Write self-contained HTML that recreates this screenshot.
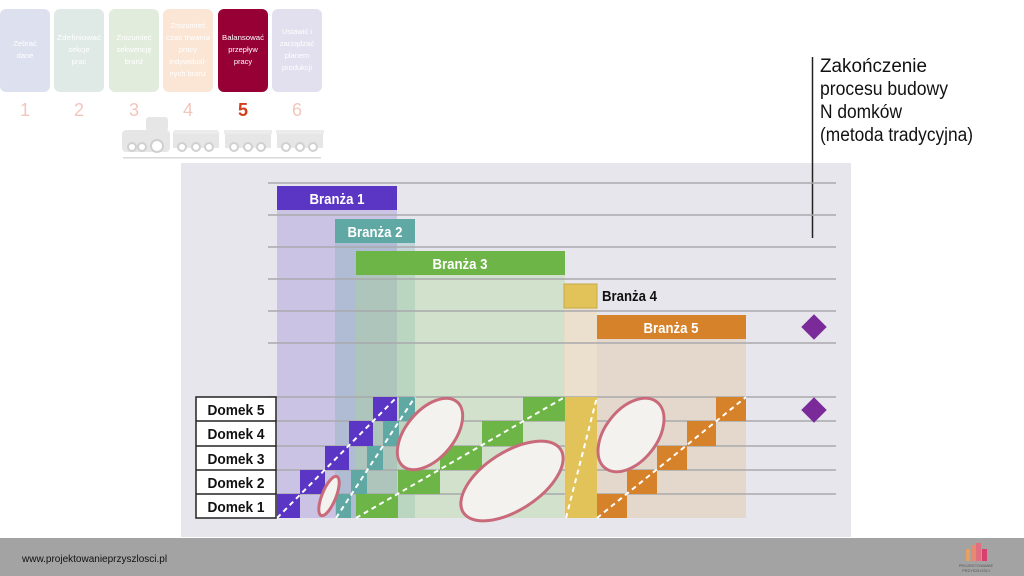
<!DOCTYPE html>
<html><head><meta charset="utf-8"><style>
html,body{margin:0;padding:0;background:#fff;}
svg{display:block;font-family:"Liberation Sans",sans-serif;}
</style></head><body>
<svg width="1024" height="576" viewBox="0 0 1024 576" xmlns="http://www.w3.org/2000/svg">
<rect width="1024" height="576" fill="#fff"/>
<!-- top steps -->
<g font-size="7.5" fill="#fff" text-anchor="middle">
<rect x="0" y="9" width="50" height="83" rx="6" fill="#dde0ee"/>
<text x="25" y="46">Zebrać</text><text x="25" y="58">dane</text>
<rect x="54" y="9" width="50" height="83" rx="6" fill="#dfe9e6"/>
<text x="79" y="40" textLength="44" lengthAdjust="spacingAndGlyphs">Zdefiniować</text><text x="79" y="52">sekcje</text><text x="79" y="64">prac</text>
<rect x="109" y="9" width="50" height="83" rx="6" fill="#e2ecdd"/>
<text x="134" y="40">Zrozumieć</text><text x="134" y="52">sekwencję</text><text x="134" y="64">branż</text>
<rect x="163" y="9" width="50" height="83" rx="6" fill="#fbe5d5"/>
<text x="188" y="28">Zrozumieć</text><text x="188" y="40" textLength="44" lengthAdjust="spacingAndGlyphs">czas trwania</text><text x="188" y="52">pracy</text><text x="188" y="64">indywidual-</text><text x="188" y="76">nych branż</text>
<rect x="218" y="9" width="50" height="83" rx="6" fill="#960034"/>
<text x="243" y="40" textLength="42" lengthAdjust="spacingAndGlyphs">Balansować</text><text x="243" y="52">przepływ</text><text x="243" y="64">pracy</text>
<rect x="272" y="9" width="50" height="83" rx="6" fill="#e2dfee"/>
<text x="297" y="34">Ustawić i</text><text x="297" y="46">zarządzać</text><text x="297" y="58">planem</text><text x="297" y="70">produkcji</text>
</g>
<g font-size="18" text-anchor="middle" fill="#f2c6bd">
<text x="25" y="116">1</text><text x="79" y="116">2</text><text x="134" y="116">3</text><text x="188" y="116">4</text>
<text x="243" y="116" fill="#d0401f" font-weight="bold">5</text><text x="297" y="116">6</text>
</g>
<!-- train -->
<g fill="#e6e6e6">
<rect x="122" y="130" width="48" height="22" rx="4"/>
<rect x="146" y="117" width="22" height="14" rx="3"/>
<rect x="173" y="132" width="46" height="16"/><rect x="174" y="130" width="44" height="4" fill="#ececec"/>
<rect x="225" y="132" width="46" height="16"/><rect x="224" y="130" width="48" height="4" fill="#ececec"/>
<rect x="277" y="132" width="46" height="16"/><rect x="276" y="130" width="48" height="4" fill="#ececec"/>
<rect x="123" y="157" width="198" height="1.5" fill="#d8d8d8"/>
</g>
<g fill="#fff" stroke="#d0d0d0" stroke-width="2">
<circle cx="132" cy="147" r="4"/><circle cx="142" cy="147" r="4"/><circle cx="157" cy="146" r="6"/>
<circle cx="182" cy="147" r="4"/><circle cx="196" cy="147" r="4"/><circle cx="209" cy="147" r="4"/>
<circle cx="234" cy="147" r="4"/><circle cx="248" cy="147" r="4"/><circle cx="261" cy="147" r="4"/>
<circle cx="286" cy="147" r="4"/><circle cx="300" cy="147" r="4"/><circle cx="313" cy="147" r="4"/>
</g>
<!-- right text -->
<g font-size="19" fill="#111" lengthAdjust="spacingAndGlyphs">
<text x="820" y="72" textLength="107" lengthAdjust="spacingAndGlyphs">Zakończenie</text>
<text x="820" y="95" textLength="128" lengthAdjust="spacingAndGlyphs">procesu budowy</text>
<text x="820" y="118" textLength="82" lengthAdjust="spacingAndGlyphs">N domków</text>
<text x="820" y="141" textLength="153" lengthAdjust="spacingAndGlyphs">(metoda tradycyjna)</text>
</g>
<!-- panel -->
<rect x="181" y="163" width="670" height="374" fill="#e6e6ec"/>
<line x1="812.5" y1="57" x2="812.5" y2="238" stroke="#222" stroke-width="1.5"/>
<!-- shaded columns -->
<rect x="277" y="210" width="120" height="308" fill="#5b35c4" fill-opacity="0.2"/>
<rect x="335" y="243" width="80" height="275" fill="#5fa8a4" fill-opacity="0.25"/>
<rect x="356" y="275" width="209" height="243" fill="#a8d890" fill-opacity="0.35"/>
<rect x="564" y="308" width="33" height="210" fill="#ecdcc0" fill-opacity="0.7"/>
<rect x="597" y="339" width="149" height="179" fill="#e4d8cc"/>
<!-- lines -->
<g stroke="#a9a9ad" stroke-width="1.5">
<line x1="268" y1="183" x2="836" y2="183"/><line x1="268" y1="215" x2="836" y2="215"/>
<line x1="268" y1="247" x2="836" y2="247"/><line x1="268" y1="279" x2="836" y2="279"/>
<line x1="268" y1="311" x2="836" y2="311"/><line x1="268" y1="343" x2="836" y2="343"/>
<line x1="268" y1="397" x2="836" y2="397"/><line x1="268" y1="421" x2="836" y2="421"/>
<line x1="268" y1="446" x2="836" y2="446"/><line x1="268" y1="470" x2="836" y2="470"/>
<line x1="268" y1="494" x2="836" y2="494"/>
</g>
<!-- bars -->
<g font-size="15" font-weight="bold" fill="#fff" text-anchor="middle">
<rect x="277" y="186" width="120" height="24" fill="#5b35c4"/><text x="337" y="204" textLength="55" lengthAdjust="spacingAndGlyphs">Branża 1</text>
<rect x="335" y="219" width="80" height="24" fill="#5fa8a4"/><text x="375" y="237" textLength="55" lengthAdjust="spacingAndGlyphs">Branża 2</text>
<rect x="356" y="251" width="209" height="24" fill="#6db546"/><text x="460" y="269" textLength="55" lengthAdjust="spacingAndGlyphs">Branża 3</text>
<rect x="564" y="284" width="33" height="24" fill="#e1c35a" stroke="#c8aa48"/>
<text x="602" y="301" fill="#111" text-anchor="start" textLength="55" lengthAdjust="spacingAndGlyphs">Branża 4</text>
<rect x="597" y="315" width="149" height="24" fill="#d6822a"/><text x="671" y="333" textLength="55" lengthAdjust="spacingAndGlyphs">Branża 5</text>
</g>
<!-- cells -->
<g>
<rect x="565" y="397" width="32" height="121" fill="#e1c35a"/>
<g fill="#5b35c4">
<rect x="277" y="494" width="23" height="24"/><rect x="300" y="470" width="25" height="24"/><rect x="325" y="446" width="24" height="24"/><rect x="349" y="421" width="24" height="25"/><rect x="373" y="397" width="24" height="24"/>
</g>
<g fill="#5fa8a4">
<rect x="336" y="494" width="15" height="24"/><rect x="351" y="470" width="16" height="24"/><rect x="367" y="446" width="16" height="24"/><rect x="383" y="421" width="16" height="25"/><rect x="399" y="397" width="16" height="24"/>
</g>
<g fill="#6db546">
<rect x="356" y="494" width="42" height="24"/><rect x="398" y="470" width="42" height="24"/><rect x="440" y="446" width="42" height="24"/><rect x="482" y="421" width="41" height="25"/><rect x="523" y="397" width="42" height="24"/>
</g>
<g fill="#d6822a">
<rect x="597" y="494" width="30" height="24"/><rect x="627" y="470" width="30" height="24"/><rect x="657" y="446" width="30" height="24"/><rect x="687" y="421" width="29" height="25"/><rect x="716" y="397" width="30" height="24"/>
</g>
</g>
<!-- dashed diagonals -->
<g stroke="#fff" stroke-width="2" stroke-dasharray="5,4">
<line x1="277" y1="518" x2="397" y2="397"/>
<line x1="336" y1="518" x2="415" y2="397"/>
<line x1="356" y1="518" x2="565" y2="397"/>
<line x1="566" y1="518" x2="597" y2="397"/>
<line x1="597" y1="518" x2="746" y2="397"/>
</g>
<!-- ellipses -->
<g fill="#f3f2ee" stroke="#c96a7a" stroke-width="3">
<ellipse cx="329" cy="496" rx="21" ry="7" transform="rotate(-68 329 496)"/>
<ellipse cx="430" cy="434" rx="42" ry="24" transform="rotate(-50 430 434)"/>
<ellipse cx="512" cy="481" rx="58" ry="29" transform="rotate(-33 512 481)"/>
<ellipse cx="631" cy="435" rx="42" ry="26" transform="rotate(-52 631 435)"/>
</g>
<!-- diamonds -->
<g fill="#7b2a9a">
<rect x="805" y="318" width="18" height="18" transform="rotate(45 814 327)"/>
<rect x="805" y="401" width="18" height="18" transform="rotate(45 814 410)"/>
</g>
<!-- domek labels -->
<g font-size="15" font-weight="bold" fill="#111" text-anchor="middle">
<rect x="196" y="397" width="80" height="121" fill="#fff" stroke="#222" stroke-width="1.5"/>
<line x1="196" y1="421" x2="276" y2="421" stroke="#222" stroke-width="1.5"/>
<line x1="196" y1="446" x2="276" y2="446" stroke="#222" stroke-width="1.5"/>
<line x1="196" y1="470" x2="276" y2="470" stroke="#222" stroke-width="1.5"/>
<line x1="196" y1="494" x2="276" y2="494" stroke="#222" stroke-width="1.5"/>
<text x="236" y="415" textLength="57" lengthAdjust="spacingAndGlyphs">Domek 5</text>
<text x="236" y="439" textLength="57" lengthAdjust="spacingAndGlyphs">Domek 4</text>
<text x="236" y="464" textLength="57" lengthAdjust="spacingAndGlyphs">Domek 3</text>
<text x="236" y="488" textLength="57" lengthAdjust="spacingAndGlyphs">Domek 2</text>
<text x="236" y="512" textLength="57" lengthAdjust="spacingAndGlyphs">Domek 1</text>
</g>
<!-- footer -->
<rect x="0" y="538" width="1024" height="38" fill="#a3a3a3"/>
<text x="22" y="562" font-size="10" fill="#111">www.projektowanieprzyszlosci.pl</text>
<g>
<rect x="966" y="549" width="4" height="12" fill="#e8a060"/><rect x="971" y="545" width="4" height="16" fill="#e88a70"/>
<rect x="976" y="543" width="5" height="18" fill="#e07080"/><rect x="982" y="549" width="5" height="12" fill="#d84070"/>
<text x="976" y="567" font-size="4" fill="#555" text-anchor="middle">PROJEKTOWANIE</text>
<text x="976" y="572" font-size="4" fill="#555" text-anchor="middle">PRZYSZŁOŚCI</text>
</g>
</svg>
</body></html>
